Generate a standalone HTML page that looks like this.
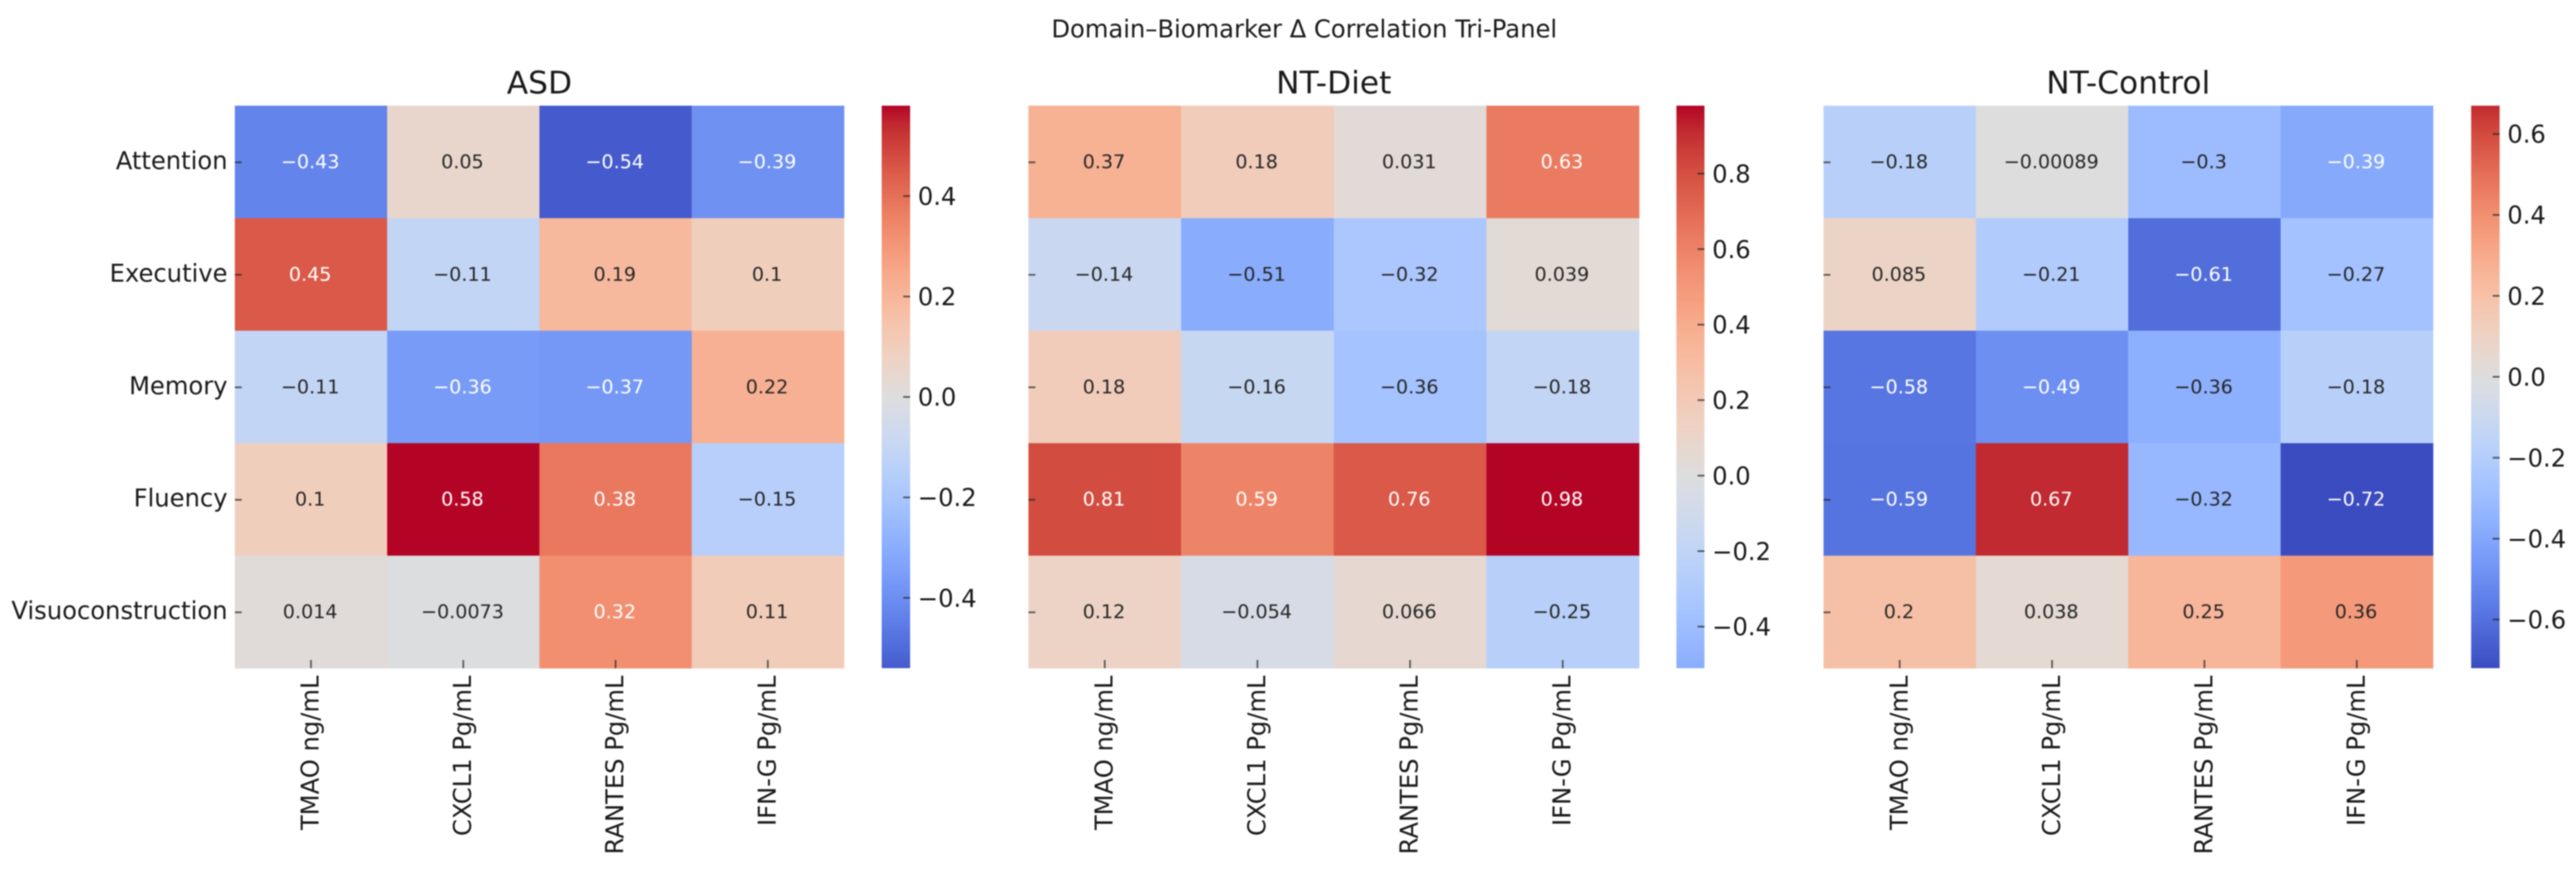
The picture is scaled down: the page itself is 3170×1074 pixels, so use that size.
<!DOCTYPE html>
<html lang="en">
<head>
<meta charset="utf-8">
<title>Domain–Biomarker Δ Correlation Tri-Panel</title>
<style>
  html, body { margin: 0; padding: 0; background: #fff; }
  body { width: 3170px; height: 1074px; overflow: hidden; }
  svg { display: block; filter: blur(0.8px); }
  text { font-family: "DejaVu Sans", "Liberation Sans", sans-serif; }
</style>
</head>
<body>
<svg id="chart" xmlns="http://www.w3.org/2000/svg" width="3170" height="1074" viewBox="0 0 3170 1074">
  <rect x="0" y="0" width="3170" height="1074" fill="#ffffff"/>
  <text x="1605" y="46" font-size="29.8" text-anchor="middle" fill="#1a1a1a">Domain–Biomarker Δ Correlation Tri-Panel</text>
  <defs id="gradients"></defs>
</svg>
<script>
const domains = ["Attention", "Executive", "Memory", "Fluency", "Visuoconstruction"];
const biomarkers = ["TMAO ng/mL", "CXCL1 Pg/mL", "RANTES Pg/mL", "IFN-G Pg/mL"];

const asdValues = [
  [-0.43, 0.05, -0.54, -0.39],
  [0.45, -0.11, 0.19, 0.1],
  [-0.11, -0.36, -0.37, 0.22],
  [0.1, 0.58, 0.38, -0.15],
  [0.014, -0.0073, 0.32, 0.11]
];
const ntDietValues = [
  [0.37, 0.18, 0.031, 0.63],
  [-0.14, -0.51, -0.32, 0.039],
  [0.18, -0.16, -0.36, -0.18],
  [0.81, 0.59, 0.76, 0.98],
  [0.12, -0.054, 0.066, -0.25]
];
const ntControlValues = [
  [-0.18, -0.00089, -0.3, -0.39],
  [0.085, -0.21, -0.61, -0.27],
  [-0.58, -0.49, -0.36, -0.18],
  [-0.59, 0.67, -0.32, -0.72],
  [0.2, 0.038, 0.25, 0.36]
];

const asdTicks = [0.4, 0.2, 0.0, -0.2, -0.4];
const ntDietTicks = [0.8, 0.6, 0.4, 0.2, 0.0, -0.2, -0.4];
const ntControlTicks = [0.6, 0.4, 0.2, 0.0, -0.2, -0.4, -0.6];

const panelTitles = ["ASD", "NT-Diet", "NT-Control"];
const panelKeys = ["asd", "nt-diet", "nt-control"];
const panelValues = [asdValues, ntDietValues, ntControlValues];
const panelTicks = [asdTicks, ntDietTicks, ntControlTicks];

/* coolwarm colormap control colours */
const coolwarm = [
  [59,76,192],[68,90,204],[77,104,215],[87,117,225],[98,130,234],[108,142,241],[119,154,247],
  [130,165,251],[141,176,254],[152,185,255],[163,194,255],[174,201,253],[184,208,249],[194,213,244],
  [204,217,238],[213,219,230],[221,221,221],[229,216,209],[236,211,197],[241,204,185],[245,196,173],
  [247,187,160],[247,177,148],[247,166,135],[244,154,123],[241,141,111],[236,127,99],[229,112,88],
  [222,96,77],[213,80,66],[203,62,56],[192,40,47],[180,4,38]
];

const SVG_NS = "http://www.w3.org/2000/svg";
const svg = document.getElementById("chart");
const defs = document.getElementById("gradients");

/* layout */
const plotTop = 130;
const plotBottom = 822;
const heatLeft = [289, 1265.6, 2244];
const heatRight = [1038.6, 2017, 2994];
const barLeft = [1085, 2063, 3041];
const barRight = [1120, 2097.5, 3076];
const labelSize = 29.8;
const annotSize = 23.5;

function make(tag, attrs, text) {
  const node = document.createElementNS(SVG_NS, tag);
  for (const key in attrs) node.setAttribute(key, attrs[key]);
  if (text !== undefined) node.textContent = text;
  return node;
}

function colormap(t) {
  const clamped = Math.max(0, Math.min(1, t));
  const pos = clamped * (coolwarm.length - 1);
  const i = Math.min(Math.floor(pos), coolwarm.length - 2);
  const f = pos - i;
  return [0, 1, 2].map(function (c) {
    return coolwarm[i][c] + (coolwarm[i + 1][c] - coolwarm[i][c]) * f;
  });
}

function rgb(c) {
  return "rgb(" + c.map(function (v) { return Math.round(v); }).join(",") + ")";
}

function luminance(c) {
  const lin = c.map(function (v) {
    const s = v / 255;
    return s <= 0.03928 ? s / 12.92 : Math.pow((s + 0.055) / 1.055, 2.4);
  });
  return 0.2126 * lin[0] + 0.7152 * lin[1] + 0.0722 * lin[2];
}

function formatValue(v) {
  return String(parseFloat(v.toPrecision(2))).replace("-", "\u2212");
}

function formatTick(v) {
  return v.toFixed(1).replace("-", "\u2212");
}

panelValues.forEach(function (values, p) {
  const key = panelKeys[p];
  const flat = values.flat();
  const vmin = Math.min.apply(null, flat);
  const vmax = Math.max.apply(null, flat);
  const vrange = Math.max(Math.abs(vmin), Math.abs(vmax));
  const colorScale = function (v) { return 0.5 + v / (2 * vrange); };
  const xScale = function (col) {
    return heatLeft[p] + (heatRight[p] - heatLeft[p]) * col / biomarkers.length;
  };
  const yScale = function (row) {
    return plotTop + (plotBottom - plotTop) * row / domains.length;
  };
  const barScale = function (v) {
    return plotTop + (vmax - v) / (vmax - vmin) * (plotBottom - plotTop);
  };
  const cellW = xScale(1) - xScale(0);
  const cellH = yScale(1) - yScale(0);

  const group = make("g", {});
  
  
  svg.appendChild(group);

  const title = make("text", {
    x: (heatLeft[p] + heatRight[p]) / 2, y: 115, "font-size": 38.5,
    "text-anchor": "middle", fill: "#1a1a1a"
  }, panelTitles[p]);
  
  
  group.appendChild(title);

  values.forEach(function (rowValues, r) {
    rowValues.forEach(function (value, c) {
      const color = colormap(colorScale(value));
      const cell = make("rect", {
        x: xScale(c), y: yScale(r), width: cellW + 0.4, height: cellH + 0.4, fill: rgb(color)
      });
      
      
      group.appendChild(cell);
    });
  });

  values.forEach(function (rowValues, r) {
    rowValues.forEach(function (value, c) {
      const color = colormap(colorScale(value));
      const annot = make("text", {
        x: xScale(c) + cellW / 2 - 1, y: yScale(r) + cellH / 2 + 7.8, "font-size": annotSize,
        "text-anchor": "middle", fill: luminance(color) > 0.408 ? "#262626" : "#ffffff"
      }, formatValue(value));
      
      
      group.appendChild(annot);
    });
  });

  domains.forEach(function (domain, r) {
    const cy = yScale(r) + cellH / 2 + 0.5;
    const tick = make("rect", {
      x: heatLeft[p], y: cy - 1, width: 8.5, height: 2, fill: "#262626", opacity: 0.75
    });
    
    
    group.appendChild(tick);
    if (p === 0) {
      const label = make("text", {
        x: 280, y: cy + 8.3, "font-size": labelSize, "text-anchor": "end", fill: "#1a1a1a"
      }, domain);
      
      
      group.appendChild(label);
    }
  });

  biomarkers.forEach(function (name, c) {
    const cx = xScale(c) + cellW / 2;
    const tick = make("rect", {
      x: cx - 1, y: plotBottom - 10, width: 2, height: 10, fill: "#262626", opacity: 0.75
    });
    
    
    group.appendChild(tick);
    const lx = cx + 9.5;
    const label = make("text", {
      x: lx, y: 831, "font-size": labelSize, "text-anchor": "end", fill: "#1a1a1a",
      transform: "rotate(-90 " + lx + " 831)"
    }, name);
    
    
    group.appendChild(label);
  });

  const gradientId = "bar-gradient-" + key;
  const gradient = make("linearGradient", { id: gradientId, x1: 0, y1: 0, x2: 0, y2: 1 });
  for (let i = 0; i <= 64; i++) {
    const frac = i / 64;
    const v = vmax + (vmin - vmax) * frac;
    gradient.appendChild(make("stop", { offset: frac, "stop-color": rgb(colormap(colorScale(v))) }));
  }
  defs.appendChild(gradient);

  const bar = make("rect", {
    x: barLeft[p], y: plotTop, width: barRight[p] - barLeft[p], height: plotBottom - plotTop,
    fill: "url(#" + gradientId + ")"
  });
  
  
  group.appendChild(bar);

  panelTicks[p].forEach(function (tickValue) {
    const ty = barScale(tickValue);
    const tick = make("rect", {
      x: barRight[p] - 8.5, y: ty - 1, width: 8.5, height: 2, fill: "#262626", opacity: 0.75
    });
    
    
    group.appendChild(tick);
    const label = make("text", {
      x: barRight[p] + 9.5, y: ty + 10.8, "font-size": labelSize, "text-anchor": "start", fill: "#1a1a1a"
    }, formatTick(tickValue));
    
    
    group.appendChild(label);
  });
});
</script>
</body>
</html>
